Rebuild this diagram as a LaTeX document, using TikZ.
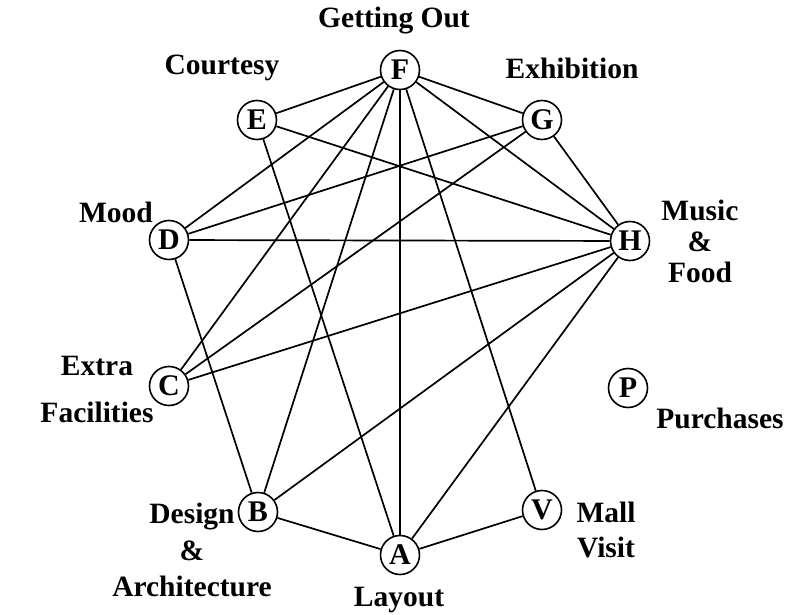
\documentclass[tikz,border=0pt]{standalone}
\usepackage{fontspec}
\setmainfont{Liberation Serif}
\usepackage{tikz}
\usetikzlibrary{positioning}

\begin{document}
\begin{tikzpicture}[x=1pt, y=-1pt,
  vertex/.style={circle, draw, line width=1.6pt, minimum size=39pt, inner sep=0pt, fill=white, font=\fontsize{30}{30}\selectfont\bfseries},
  lab/.style={font=\fontsize{29.5}{35}\selectfont\bfseries, align=center, inner sep=0pt},
  edge/.style={line width=1.7pt}]
  \useasboundingbox (0,0) rectangle (787,615);

  % Vertices
  \node[vertex] (F) at (400, 70) {F};
  \node[vertex] (E) at (257, 120) {E};
  \node[vertex] (G) at (542, 120) {G};
  \node[vertex] (D) at (169, 240) {D};
  \node[vertex] (H) at (630, 241) {H};
  \node[vertex] (C) at (169, 386) {C};
  \node[vertex] (P) at (628, 388) {P};
  \node[vertex] (B) at (258, 512) {B};
  \node[vertex] (V) at (542, 510) {V};
  \node[vertex] (A) at (400, 555) {A};

  % Edges
  \foreach \s/\t in {F/E, F/G, F/D, F/C, F/B, F/A, F/V, F/H,
                     E/H, E/A, G/D, G/C, G/H, D/H, D/B,
                     H/C, H/B, H/A, B/A, A/V}
    \draw[edge] (\s) -- (\t);

  % Labels
  \node[lab] (lF) at (394, 21) {Getting Out};
  \node[lab] (lE) at (222, 68) {Courtesy};
  \node[lab] (lG) at (572, 68) {Exhibition};
  \node[lab] (lD) at (116, 212) {Mood};
  \node[lab, font=\fontsize{29.5}{31}\selectfont\bfseries] (lH) at (700, 241) {Music\\\&\\Food};
  \node[lab, font=\fontsize{29.5}{47}\selectfont\bfseries] (lC) at (97, 389) {Extra\\Facilities};
  \node[lab] (lP) at (720, 418) {Purchases};
  \node[lab, font=\fontsize{29.5}{36.5}\selectfont\bfseries] (lB) at (192, 550) {Design\\\&\\Architecture};
  \node[lab] (lV) at (606, 530) {Mall\\Visit};
  \node[lab] (lA) at (399, 600) {Layout};
\end{tikzpicture}
\end{document}
